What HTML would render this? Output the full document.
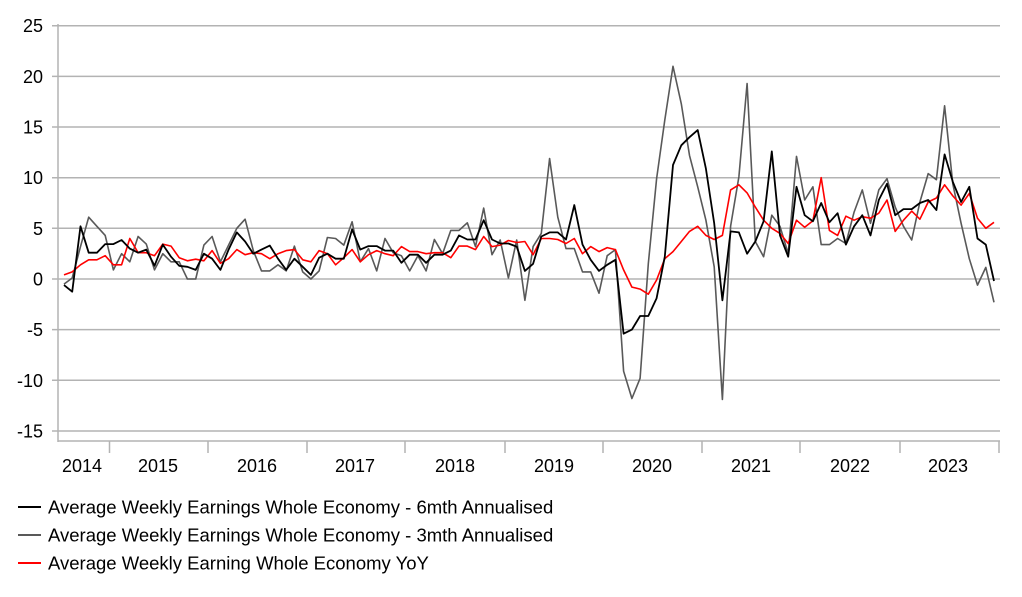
<!DOCTYPE html>
<html><head><meta charset="utf-8"><style>
html,body{margin:0;padding:0;background:#fff;}
svg{display:block;font-family:"Liberation Sans",Arial,sans-serif;}
</style></head><body>
<svg id="c" width="1022" height="597" xmlns="http://www.w3.org/2000/svg"></svg>
<script>
var black=[-0.6,-1.25,5.2,2.6,2.6,3.45,3.45,3.85,3.0,2.6,2.9,1.3,3.4,2.2,1.3,1.2,0.9,2.5,2.0,0.9,2.9,4.6,3.7,2.5,2.9,3.3,2.0,0.9,2.0,1.2,0.4,2.1,2.5,2.0,2.0,4.9,2.9,3.25,3.25,2.8,2.8,1.6,2.4,2.4,1.6,2.4,2.4,2.8,4.3,3.9,3.9,5.8,3.9,3.5,3.5,3.2,0.8,1.5,4.2,4.6,4.6,3.9,7.3,3.4,1.9,0.8,1.4,1.9,-5.4,-5.0,-3.65,-3.65,-1.9,2.2,11.25,13.2,14.0,14.7,10.9,5.5,-2.1,4.7,4.6,2.5,3.7,5.7,12.6,4.3,2.2,9.1,6.3,5.7,7.5,5.6,6.5,3.4,5.2,6.3,4.3,7.8,9.4,6.3,6.9,6.9,7.5,7.8,6.8,12.3,9.6,7.6,9.1,4.0,3.4,-0.2];
var gray=[-0.5,0.1,3.2,6.1,5.2,4.3,0.9,2.5,1.7,4.2,3.45,0.9,2.5,1.7,1.7,0,0,3.35,4.2,1.7,3.35,5.0,5.9,2.8,0.8,0.8,1.4,0.8,3.25,0.7,0,0.8,4.1,4.0,3.35,5.65,1.7,3.0,0.8,4.0,2.6,2.3,0.8,2.3,0.8,3.9,2.5,4.8,4.8,5.55,3.2,7.0,2.4,3.85,0.1,3.85,-2.1,3.2,4.5,11.9,6.1,3.0,3.0,0.7,0.7,-1.4,2.3,2.9,-9.1,-11.8,-9.8,1.5,9.9,15.7,21.0,17.3,12.2,9.1,5.8,1.2,-11.9,5.2,10.1,19.3,3.7,2.2,6.3,5.2,2.5,12.1,7.8,9.1,3.4,3.4,4.0,3.5,6.6,8.8,5.5,8.8,9.9,7.1,5.2,3.85,7.6,10.4,9.8,17.1,9.4,5.5,2.0,-0.6,1.15,-2.3];
var red=[0.4,0.7,1.4,1.9,1.9,2.3,1.4,1.4,4.0,2.6,2.6,2.3,3.45,3.25,2.1,1.8,1.95,1.8,2.8,1.55,2.0,2.9,2.4,2.6,2.5,2.0,2.5,2.8,2.9,1.9,1.7,2.8,2.5,1.4,2.1,2.9,1.7,2.4,2.8,2.5,2.3,3.2,2.7,2.7,2.5,2.6,2.6,2.1,3.25,3.25,2.9,4.2,3.2,3.35,3.8,3.6,3.7,2.4,4.0,4.0,3.9,3.5,4.0,2.5,3.2,2.7,3.1,2.9,0.9,-0.8,-1.0,-1.5,-0.1,2.0,2.7,3.7,4.7,5.2,4.3,3.9,4.3,8.8,9.3,8.5,7.1,5.8,5.0,4.5,3.5,5.8,5.1,5.75,10.0,4.8,4.3,6.2,5.8,6.15,6.0,6.5,7.8,4.7,5.8,6.7,5.9,7.6,8.0,9.3,8.2,7.3,8.45,6.0,5.0,5.6];
function Y(v){return 279-v*10.13;}
var s='';
for(var k=0;k<9;k++){var v=25-5*k,y=Y(v).toFixed(1);
s+='<line x1="52" y1="'+y+'" x2="1000" y2="'+y+'" stroke="#b3b3b3" stroke-width="1.5"/>';
s+='<text x="43" y="'+(+y+6.5)+'" font-size="18" text-anchor="end" fill="#000">'+v+'</text>';}
s+='<line x1="58" y1="24" x2="58" y2="442" stroke="#b3b3b3" stroke-width="1.5"/>';
s+='<line x1="58" y1="441" x2="1000" y2="441" stroke="#b3b3b3" stroke-width="1.5"/>';
[109.5,208,307,405,505,603,702,800,900,999].forEach(function(x){s+='<line x1="'+x+'" y1="441" x2="'+x+'" y2="453" stroke="#b3b3b3" stroke-width="1.5"/>';});
var yrs=[[82,2014],[158,2015],[257,2016],[355,2017],[455,2018],[554,2019],[652,2020],[751,2021],[850,2022],[948,2023]];
yrs.forEach(function(a){s+='<text x="'+a[0]+'" y="472" font-size="18" text-anchor="middle">'+a[1]+'</text>';});
function pl(d,c,w){var p=d.map(function(v,i){return (64+8.23*i).toFixed(1)+','+Y(v).toFixed(1);}).join(' ');
return '<polyline points="'+p+'" fill="none" stroke="'+c+'" stroke-width="'+w+'" stroke-linejoin="round"/>';}
s+=pl(gray,'#595959',1.6)+pl(red,'#ff0000',1.6)+pl(black,'#000',1.8);
var lg=[['#000','Average Weekly Earnings Whole Economy - 6mth Annualised'],['#595959','Average Weekly Earnings Whole Economy - 3mth Annualised'],['#ff0000','Average Weekly Earning Whole Economy YoY']];
lg.forEach(function(a,i){var y=507+28*i;s+='<line x1="18" y1="'+y+'" x2="41" y2="'+y+'" stroke="'+a[0]+'" stroke-width="2"/>';
s+='<text x="48" y="'+(y+6.5)+'" font-size="18.5">'+a[1]+'</text>';});
document.getElementById('c').innerHTML=s;
</script>
</body></html>
